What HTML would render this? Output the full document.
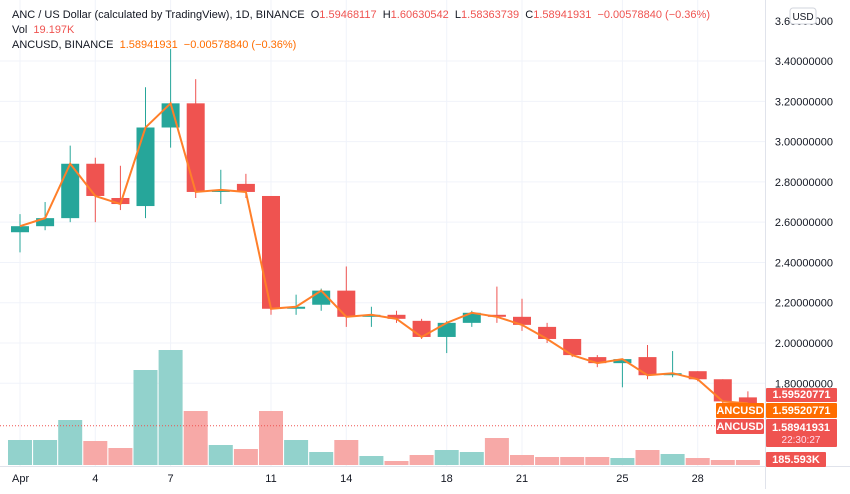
<!DOCTYPE html>
<html><head><meta charset="utf-8"><style>
body{margin:0;background:#fff;font-family:"Liberation Sans",sans-serif}
svg text{font-family:"Liberation Sans",sans-serif}
</style></head><body>
<svg id="c" width="850" height="489" viewBox="0 0 850 489">
<g id="grid"></g><g id="vol"></g><g id="candles"></g><g id="line"></g><g id="axes"></g><g id="labels"></g>
</svg>
<script>
const days=[1,2,3,4,5,6,7,8,9,10,11,12,13,14,15,16,17,18,19,20,21,22,23,24,25,26,27,28,29,30];
const opens=[2.55,2.58,2.62,2.89,2.72,2.68,3.07,3.19,2.75,2.79,2.73,2.17,2.19,2.26,2.13,2.14,2.11,2.03,2.10,2.14,2.13,2.08,2.02,1.93,1.90,1.93,1.84,1.86,1.82,1.73];
const highs=[2.64,2.70,2.98,2.92,2.88,3.27,3.46,3.31,2.86,2.84,2.73,2.24,2.27,2.38,2.18,2.16,2.12,2.11,2.16,2.28,2.22,2.10,2.02,1.94,1.92,1.99,1.96,1.86,1.82,1.76];
const lows=[2.45,2.56,2.60,2.60,2.66,2.62,2.97,2.72,2.69,2.72,2.14,2.14,2.16,2.08,2.08,2.10,2.02,1.95,2.08,2.10,2.06,2.00,1.93,1.88,1.78,1.82,1.83,1.81,1.70,1.69];
const closes=[2.58,2.62,2.89,2.73,2.69,3.07,3.19,2.75,2.76,2.75,2.17,2.18,2.26,2.13,2.14,2.12,2.03,2.10,2.15,2.13,2.09,2.02,1.94,1.90,1.92,1.84,1.85,1.82,1.71,1.70];
const volumes=[25,25,45,24,17,95,115,54,20,16,54,25,13,25,9,4,10,15,13,27,10,8,8,8,7,15,11,7,5,5];
const priceTicks=[3.4,3.2,3.0,2.8,2.6,2.4,2.2,2.0,1.8];
const dateTicks=[1,4,7,11,14,18,21,25,28];
const dateLabels=["Apr","4","7","11","14","18","21","25","28"];
const NS="http://www.w3.org/2000/svg";
function X(d){return 20+(d-1)*25.1;}
function Y(v){return 343-(v-2)*201.4;}
function V(v){return 465-v*1.0;}
function mk(p,t,a){const e=document.createElementNS(NS,t);for(const k in a)e.setAttribute(k,a[k]);p.appendChild(e);return e;}
const G=id=>document.getElementById(id);
const grid=G('grid'),vol=G('vol'),cg=G('candles'),lg=G('line'),ax=G('axes'),lb=G('labels');
priceTicks.forEach(p=>{const l=mk(grid,'line',{x1:0,x2:765,y1:Y(p),y2:Y(p),stroke:'#f0f3fa'});


const t=mk(ax,'text',{x:833,y:Y(p)+4,'font-size':11,fill:'#131722','text-anchor':'end'});t.textContent=p.toFixed(8);

});
{const t=mk(ax,'text',{x:833,y:Y(3.6)+4,'font-size':11,fill:'#131722','text-anchor':'end'});t.textContent='3.60000000';

}
dateTicks.forEach((d,i)=>{const l=mk(grid,'line',{x1:X(d),x2:X(d),y1:0,y2:466,stroke:'#f0f3fa'});


const t=mk(ax,'text',{x:i==0?X(d)-8:X(d),y:482,'font-size':11,fill:'#131722','text-anchor':i==0?'start':'middle'});t.textContent=dateLabels[i];

});
mk(ax,'line',{x1:765.5,x2:765.5,y1:0,y2:489,stroke:'#e0e3eb'});
mk(ax,'line',{x1:0,x2:850,y1:466.5,y2:466.5,stroke:'#e0e3eb'});
mk(ax,'line',{x1:0,x2:765,y1:Y(1.58941931),y2:Y(1.58941931),stroke:'#ef5350','stroke-dasharray':'1,2'});
days.forEach((d,i)=>{const up=closes[i]>=opens[i];const col=up?'#26a69a':'#ef5350';
const b=mk(vol,'rect',{x:X(d)-12,y:V(volumes[i]),width:24,height:465-V(volumes[i]),fill:up?'#92d2cc':'#f7a9a7'});


const w=mk(cg,'line',{x1:X(d),x2:X(d),y1:Y(highs[i]),y2:Y(lows[i]),stroke:col});


const top=Math.min(Y(opens[i]),Y(closes[i]));const h=Math.max(2,Math.abs(Y(opens[i])-Y(closes[i])));
const r=mk(cg,'rect',{x:X(d)-9,y:top,width:18,height:h,fill:col});

});
const pl=mk(lg,'polyline',{points:days.map((d,i)=>X(d)+','+Y(closes[i])).join(' '),fill:'none',stroke:'#ff7f2a','stroke-width':2});


function box(x,y,w,h,fill,txt,name,anchor){const g=mk(lb,'g',{});
mk(g,'rect',{x:x,y:y,width:w,height:h,fill:fill,rx:1});const t=mk(g,'text',{x:x+w/2,y:y+h-4,'font-size':11,fill:'#fff','text-anchor':'middle','font-weight':'bold'});t.textContent=txt;return g;}
box(766,388,71,14,'#ef5350','1.59520771','price-label-high');
box(766,403,71,15,'#ff6d00','1.59520771','price-label-line');
box(716,403,48,15,'#ff6d00','ANCUSD','series-name-tag');
box(716,419,48,15,'#ef5350','ANCUSD','series-name-tag-2');
box(766,419,71,28,'#ef5350','','price-label-last');
{const t=mk(lb,'text',{x:801,y:431,'font-size':11,fill:'#fff','text-anchor':'middle','font-weight':'bold'});t.textContent='1.58941931';


const t2=mk(lb,'text',{x:801,y:443,'font-size':10,fill:'#fde','text-anchor':'middle'});t2.textContent='22:30:27';

}
box(766,452,60,15,'#ef5350','185.593K','volume-label');
{const g=mk(lb,'g',{});
mk(g,'rect',{x:790,y:8,width:26,height:16,fill:'#fff',stroke:'#d1d4dc',rx:3});const t=mk(g,'text',{x:803,y:20,'font-size':10,fill:'#131722','text-anchor':'middle'});t.textContent='USD';}
</script>
<div style="position:absolute;left:12px;top:8px;font-size:11px;line-height:15px;color:#131722;white-space:nowrap">
<div>ANC / US Dollar (calculated by TradingView), 1D, BINANCE &nbsp;O<span style="color:#ef5350">1.59468117</span> &nbsp;H<span style="color:#ef5350">1.60630542</span> &nbsp;L<span style="color:#ef5350">1.58363739</span> &nbsp;C<span style="color:#ef5350">1.58941931 &nbsp;−0.00578840 (−0.36%)</span></div>
<div>Vol &nbsp;<span style="color:#ef5350">19.197K</span></div>
<div>ANCUSD, BINANCE &nbsp;<span style="color:#ff6d00">1.58941931 &nbsp;−0.00578840 (−0.36%)</span></div>
</div>
</body></html>
